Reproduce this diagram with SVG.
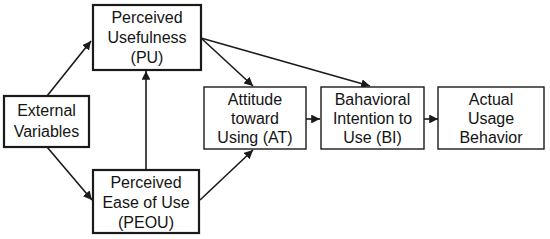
<svg xmlns="http://www.w3.org/2000/svg" width="550" height="239" viewBox="0 0 550 239">
<style>
.box{fill:#fff;stroke:#1a1a1a}
.thick{stroke-width:2.2}
.thin{stroke-width:1.4}
text{font-family:"Liberation Sans",Arial,sans-serif;font-size:16px;fill:#141414;text-anchor:middle}
.con{stroke:#1a1a1a;stroke-width:1.6;fill:none;marker-end:url(#ah)}
</style>
<defs>
<marker id="ah" viewBox="0 0 10 10" refX="10" refY="5" markerWidth="5.5" markerHeight="5.5" orient="auto" markerUnits="strokeWidth">
<path d="M0,0 L10,5 L0,10 z" fill="#1a1a1a"/>
</marker>
</defs>
<rect width="550" height="239" fill="#fff"/>
<g id="connectors">
<line class="con" x1="47" y1="96" x2="91" y2="41"/>
<line class="con" x1="47" y1="147" x2="92" y2="200"/>
<line class="con" x1="146" y1="171" x2="146" y2="71"/>
<line class="con" x1="201" y1="38" x2="253" y2="86"/>
<line class="con" x1="201" y1="38" x2="370" y2="86"/>
<line class="con" x1="200" y1="200" x2="253" y2="150"/>
<line class="con" x1="306" y1="119" x2="320" y2="119"/>
<line class="con" x1="424" y1="119" x2="438" y2="119"/>
</g>
<g id="pu">
<rect class="box thick" x="93" y="5" width="108" height="65"/>
<text x="147" y="23">Perceived</text>
<text x="147" y="43">Usefulness</text>
<text x="147" y="63">(PU)</text>
</g>
<g id="ext">
<rect class="box thick" x="4" y="96" width="85" height="51"/>
<text x="46.5" y="116">External</text>
<text x="46.5" y="137">Variables</text>
</g>
<g id="peou">
<rect class="box thick" x="93" y="170" width="106" height="63"/>
<text x="146" y="188">Perceived</text>
<text x="146" y="208">Ease of Use</text>
<text x="146" y="228">(PEOU)</text>
</g>
<g id="at">
<rect class="box thin" x="204" y="87" width="102" height="62"/>
<text x="255" y="105">Attitude</text>
<text x="255" y="124">toward</text>
<text x="255" y="143">Using (AT)</text>
</g>
<g id="bi">
<rect class="box thin" x="321" y="87" width="103" height="62"/>
<text x="372.5" y="105">Bahavioral</text>
<text x="372.5" y="124">Intention to</text>
<text x="372.5" y="143">Use (BI)</text>
</g>
<g id="aub">
<rect class="box thin" x="438" y="87" width="106" height="62"/>
<text x="491" y="105">Actual</text>
<text x="491" y="124">Usage</text>
<text x="491" y="143">Behavior</text>
</g>
</svg>
